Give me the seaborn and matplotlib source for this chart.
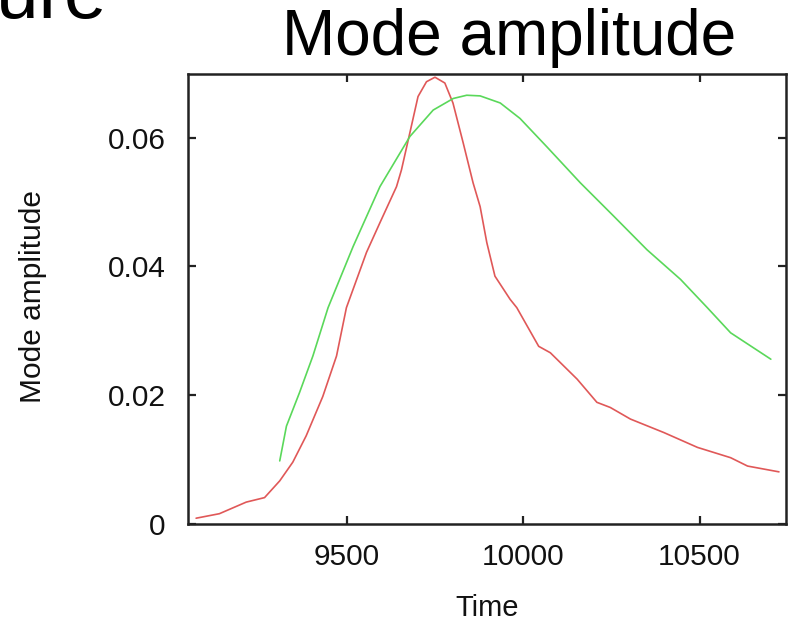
import matplotlib
matplotlib.use("Agg")
import matplotlib.pyplot as plt
import seaborn as sns
import pandas as pd

# ---- data ----
red_time = [9073, 9139, 9215, 9267, 9310, 9347, 9385, 9432, 9471, 9499, 9556,
            9594, 9641, 9655, 9679, 9702, 9726, 9750, 9778, 9801, 9830, 9858,
            9878, 9897, 9920, 9963, 9982, 10044, 10077, 10153, 10209, 10247,
            10304, 10399, 10494, 10588, 10636, 10725]
red_amp = [0.0009, 0.0016, 0.0034, 0.0041, 0.0067, 0.0096, 0.0137, 0.0198,
           0.0261, 0.0336, 0.0422, 0.0468, 0.0524, 0.0550, 0.0608, 0.0664,
           0.0687, 0.0694, 0.0685, 0.0654, 0.0592, 0.0530, 0.0493, 0.0437,
           0.0385, 0.0349, 0.0336, 0.0276, 0.0266, 0.0225, 0.0189, 0.0181,
           0.0163, 0.0142, 0.0119, 0.0103, 0.0090, 0.0081]

green_time = [9310, 9329, 9366, 9404, 9447, 9518, 9594, 9679, 9745, 9802, 9840,
              9878, 9935, 9991, 10067, 10162, 10257, 10351, 10446, 10522,
              10588, 10702]
green_amp = [0.0098, 0.0152, 0.0204, 0.0261, 0.0336, 0.0431, 0.0524, 0.0602,
             0.0643, 0.0661, 0.0666, 0.0665, 0.0654, 0.0630, 0.0586, 0.0530,
             0.0478, 0.0426, 0.0380, 0.0336, 0.0297, 0.0256]

x_ticks = [9500, 10000, 10500]
y_ticks = [0, 0.02, 0.04, 0.06]
y_tick_labels = ["0", "0.02", "0.04", "0.06"]

title = "Mode amplitude"
x_label = "Time"
y_label = "Mode amplitude"
corner_text = "Figure"

# ---- styling ----
sns.set_style("white")
plt.rcParams["font.family"] = ["Liberation Sans", "DejaVu Sans"]

fig = plt.figure(figsize=(7.9, 6.21), dpi=100)
W, H = 790, 621
ax = fig.add_axes([188 / W, 1 - 524 / H, 598 / W, 450 / H])

red_df = pd.DataFrame({"Time": red_time, "amp": red_amp})
green_df = pd.DataFrame({"Time": green_time, "amp": green_amp})

sns.lineplot(data=red_df, x="Time", y="amp", ax=ax, color="#e05858",
             linewidth=1.2, sort=False, estimator=None)
sns.lineplot(data=green_df, x="Time", y="amp", ax=ax, color="#5ad85a",
             linewidth=1.2, sort=False, estimator=None)

ax.set_xlim(9050, 10745)
ax.set_ylim(0, 0.0699)
ax.set_xticks(x_ticks)
ax.set_xticklabels([str(t) for t in x_ticks])
ax.set_yticks(y_ticks)
ax.set_yticklabels(y_tick_labels)

for s in ax.spines.values():
    s.set_visible(True)
    s.set_linewidth(1.8)
    s.set_color("#222222")

ax.tick_params(axis="both", which="major", direction="in", length=6,
               width=1.6, color="#222222", labelsize=21.5, labelcolor="#111111",
               top=True, right=True, bottom=True, left=True)
ax.tick_params(axis="x", pad=14)
ax.tick_params(axis="y", pad=16)

ax.set_xlabel(x_label, fontsize=21, color="#111111")
ax.set_ylabel(y_label, fontsize=21.5, color="#111111")
ax.xaxis.set_label_coords(0.5, (524 - 594) / 450)
ax.yaxis.set_label_coords((47 - 188) / 598, 0.505)

fig.text(509 / W, 1 - 55 / H, title, fontsize=46, ha="center",
         va="baseline", color="black")
fig.text(107 / W, 1 - 18 / H, corner_text, fontsize=55, ha="right",
         va="baseline", color="black")

fig.savefig("out.png", dpi=100, facecolor="white")
